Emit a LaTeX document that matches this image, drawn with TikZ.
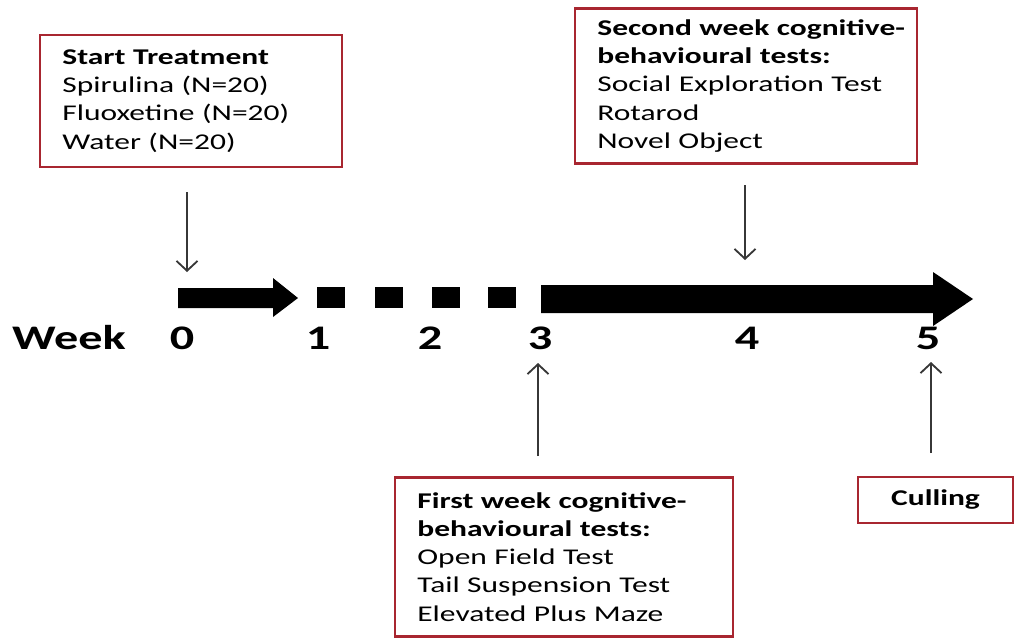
\documentclass[tikz,border=0pt]{standalone}
\usepackage{fontspec}
\setmainfont{Carlito}[FakeStretch=1.4]
\usepackage{xcolor}
\usetikzlibrary{arrows.meta}
\definecolor{boxred}{RGB}{168,38,48}
\definecolor{arrgray}{RGB}{55,55,55}

\begin{document}
\begin{tikzpicture}[x=0.025cm,y=-0.025cm,
		redbox/.style={draw=boxred,line width=2pt,fill=white,inner xsep=0.56cm,inner ysep=0pt,align=left,font=\fontsize{16}{20}\selectfont},
		thinarr/.style={draw=arrgray,line width=1.3pt,-{Straight Barb[length=7pt,width=15pt,line width=1.3pt]}},
		weeknum/.style={font=\fontsize{24.5}{27}\selectfont\bfseries}]
						\useasboundingbox (0,0) rectangle (1016,639);
						\node[redbox,minimum width=7.55cm,minimum height=3.3cm,text width=6.43cm] (start) at (191,101) {\textbf{Start Treatment}\\Spirulina (N=20)\\Fluoxetine (N=20)\\Water (N=20)};
						\node[redbox,minimum width=8.55cm,minimum height=3.875cm,text width=7.43cm] (second) at (746,86) {\mbox{\textbf{Second week cognitive-}}\\\textbf{behavioural tests:}\\Social Exploration Test\\Rotarod\\Novel Object};
						\node[redbox,minimum width=8.45cm,minimum height=3.975cm,text width=7.33cm] (first) at (564,557) {\mbox{\textbf{First week cognitive-}}\\\textbf{behavioural tests:}\\Open Field Test\\Tail Suspension Test\\Elevated Plus Maze};
						\node[redbox,minimum width=3.875cm,minimum height=1.15cm,inner xsep=0pt,align=center] (culling) at (935.5,500) {\textbf{Culling}};
						\fill (178,288)--(273,288)--(273,278)--(298,298)--(273,317)--(273,308)--(178,308)--cycle;
						\foreach \x in {317,375,432,488}
							\fill (\x,287) rectangle ++(28,21);
						\fill (541,285)--(933,285)--(933,272)--(973,299)--(933,326)--(933,313)--(541,313)--cycle;
						\node[weeknum] (week) at (69,338) {Week};
						\node[weeknum] (w0) at (182,338) {0};
						\node[weeknum] (w1) at (318,338) {1};
						\node[weeknum] (w2) at (430,338) {2};
						\node[weeknum] (w3) at (540,338) {3};
						\node[weeknum] (w4) at (747,338) {4};
						\node[weeknum] (w5) at (928,338) {5};
						\coordinate (s0) at (187,192);
						\coordinate (e0) at (187,272);
						\coordinate (s4) at (745,185);
						\coordinate (e4) at (745,260);
						\coordinate (s3) at (538,456);
						\coordinate (e3) at (538,363);
						\coordinate (s5) at (931,453);
						\coordinate (e5) at (931,362);
						\draw[thinarr] (s0)--(e0);
						\draw[thinarr] (s4)--(e4);
						\draw[thinarr] (s3)--(e3);
						\draw[thinarr] (s5)--(e5);
					\end{tikzpicture}
\end{document}
